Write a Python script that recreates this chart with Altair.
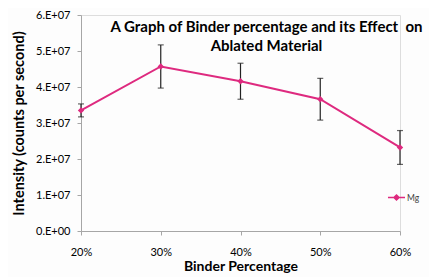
import altair as alt
import pandas as pd

binder = [20, 30, 40, 50, 60]
intensity = [3.35e7, 4.57e7, 4.16e7, 3.66e7, 2.32e7]
err = [0.18e7, 0.60e7, 0.50e7, 0.58e7, 0.47e7]
series = "Mg"
y_ticks = [0, 1e7, 2e7, 3e7, 4e7, 5e7, 6e7]
x_ticks = [20, 30, 40, 50, 60]

df = pd.DataFrame({
    "binder": binder,
    "intensity": intensity,
    "lo": [v - e for v, e in zip(intensity, err)],
    "hi": [v + e for v, e in zip(intensity, err)],
    "series": [series] * len(binder),
})

PINK = "#DE2A7F"
FONT = "Lato"

xscale = alt.Scale(domain=[20, 60], nice=False, zero=False)
yscale = alt.Scale(domain=[0, 6e7], nice=False)
xaxis = alt.Axis(values=x_ticks, labelExpr="datum.value + '%'", title="Binder Percentage",
                 grid=False, domainColor="#A6A6A6", tickColor="#A6A6A6", tickSize=4,
                 labelFontSize=11, labelPadding=11, labelColor="#000", labelFont=FONT,
                 labelOverlap=False, labelFlush=False,
                 titleFont=FONT, titleFontSize=14, titleFontWeight="bold", titlePadding=2,
                 titleColor="#000")
yaxis = alt.Axis(values=y_ticks,
                 labelExpr="datum.value == 0 ? '0.E+00' : format(datum.value/1e7,'d') + '.E+07'",
                 title="Intensity (counts per second)", grid=False,
                 domainColor="#A6A6A6", tickColor="#A6A6A6", tickSize=4,
                 labelFontSize=11, labelPadding=7, labelColor="#000", labelFont=FONT,
                 labelOverlap=False, labelFlush=False,
                 titleFont=FONT, titleFontSize=14.5, titleFontWeight="bold", titlePadding=9,
                 titleColor="#000")

x = alt.X("binder:Q", scale=xscale, axis=xaxis)
base = alt.Chart(df)

color = alt.Color("series:N", scale=alt.Scale(range=[PINK]),
                  legend=alt.Legend(title=None, orient="none", legendX=306, legendY=173,
                                    symbolType="M-1,0H1M0,-0.3L0.3,0L0,0.3L-0.3,0Z",
                                    symbolSize=290, symbolStrokeWidth=1.5, labelFontSize=8.5,
                                    labelFont=FONT, labelColor="#404040", labelOffset=1))

line = base.mark_line(strokeWidth=2).encode(x=x, y=alt.Y("intensity:Q", scale=yscale, axis=yaxis), color=color)
pts = base.mark_point(shape="diamond", filled=True, size=40, opacity=1).encode(
    x=x, y=alt.Y("intensity:Q", scale=yscale, axis=yaxis),
    color=alt.Color("series:N", legend=None, scale=alt.Scale(range=[PINK])))
rules = base.mark_rule(color="#222", strokeWidth=1.2).encode(
    x=x, y=alt.Y("lo:Q", scale=yscale, axis=yaxis), y2="hi:Q")
caps_lo = base.mark_tick(color="#222", thickness=1.2, size=6, orient="horizontal").encode(
    x=x, y=alt.Y("lo:Q", scale=yscale, axis=yaxis))
caps_hi = base.mark_tick(color="#222", thickness=1.2, size=6, orient="horizontal").encode(
    x=x, y=alt.Y("hi:Q", scale=yscale, axis=yaxis))

chart = alt.layer(line, rules, caps_lo, caps_hi, pts).properties(
    width=319, height=216,
    autosize=alt.AutoSizeParams(type="none"),
    padding={"left": 73, "top": 7, "right": 29, "bottom": 46},
    title=alt.TitleParams(text=["A Graph of Binder percentage and its Effect\u00a0 on", "Ablated Material"],
                          font=FONT, fontSize=15, fontWeight="bold", color="#000",
                          anchor="middle", frame="group", dx=26, baseline="top", offset=-45,
                          lineHeight=19),
).configure_view(stroke=None).configure(background="#FDFDFD")

chart.save("out.html", embed_options={"renderer": "svg", "actions": False})
